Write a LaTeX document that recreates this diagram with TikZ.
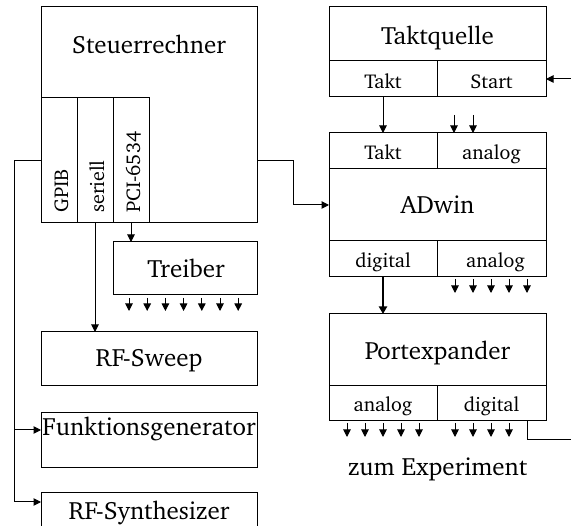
\documentclass[tikz,border=0pt]{standalone}
\usepackage[T1]{fontenc}
\usepackage{charter}
\usetikzlibrary{arrows.meta}
\begin{document}
\begin{tikzpicture}[x=1pt,y=-1pt,
  cell/.style={draw, line width=1pt, inner sep=0pt, outer sep=0pt, anchor=north west},
  big/.style={font=\fontsize{25}{30}\selectfont, inner sep=0pt, anchor=base},
  small/.style={font=\fontsize{20}{24}\selectfont, inner sep=0pt, anchor=base},
  rot/.style={font=\fontsize{20}{24}\selectfont, rotate=90, anchor=base west, inner sep=0pt},
  arr/.style={line width=1pt, -{Triangle[length=7.5pt,width=7.5pt]}},
  plain/.style={line width=1pt}]
\useasboundingbox (0,0) rectangle (571,526);

% ---------- left column ----------
\node[cell, minimum width=216pt, minimum height=216pt] (steuer) at (41,7) {};
\node[big] (steuert) at (149,54) {Steuerrechner};
\node[cell, minimum width=36pt, minimum height=125pt] (gpib) at (41,98) {};
\node[cell, minimum width=36pt, minimum height=125pt] (seriell) at (77,98) {};
\node[cell, minimum width=36pt, minimum height=125pt] (pci) at (113,98) {};
\node[rot] (gpibt) at (68,213) {GPIB};
\node[rot] (serit) at (104,213) {seriell};
\node[rot] (pcit) at (140,213) {PCI-6534};

\node[cell, minimum width=144pt, minimum height=53pt] (treiber) at (113,242) {};
\node[big] (treibert) at (186,278) {Treiber};

\node[cell, minimum width=216pt, minimum height=54pt] (sweep) at (41,332) {};
\node[big] (sweept) at (149,367) {RF-Sweep};
\node[cell, minimum width=216pt, minimum height=55pt] (funk) at (41,413) {};
\node[big] (funkt) at (149,436) {Funktionsgenerator};
\node[cell, minimum width=216pt, minimum height=54pt] (synth) at (41,493) {};
\node[big] (syntht) at (149,520) {RF-Synthesizer};

% ---------- right column ----------
\node[cell, minimum width=217pt, minimum height=54pt] (tq) at (329,7) {};
\node[big] (tqt) at (437.5,45) {Taktquelle};
\node[cell, minimum width=108pt, minimum height=36pt] (tqtakt) at (329,61) {};
\node[cell, minimum width=109pt, minimum height=36pt] (tqstart) at (437,61) {};
\node[small] (tqtaktt) at (383,89) {Takt};
\node[small] (tqstartt) at (491.5,89) {Start};

\node[cell, minimum width=108pt, minimum height=36pt] (adtakt) at (329,133) {};
\node[cell, minimum width=109pt, minimum height=36pt] (adain) at (437,133) {};
\node[cell, minimum width=217pt, minimum height=72pt] (admain) at (329,169) {};
\node[cell, minimum width=108pt, minimum height=36pt] (addig) at (329,241) {};
\node[cell, minimum width=109pt, minimum height=36pt] (adaout) at (437,241) {};
\node[small] (adtaktt) at (383,160) {Takt};
\node[small] (adaint) at (491.5,160) {analog};
\node[big] (admaint) at (437.5,214) {ADwin};
\node[small] (addigt) at (383,268) {digital};
\node[small] (adaoutt) at (495.5,268) {analog};

\node[cell, minimum width=217pt, minimum height=72pt] (pe) at (329,314) {};
\node[big] (pet) at (437.5,360) {Portexpander};
\node[cell, minimum width=108pt, minimum height=35pt] (pean) at (329,386) {};
\node[cell, minimum width=109pt, minimum height=35pt] (pedig) at (437,386) {};
\node[small] (peant) at (383,412) {analog};
\node[small] (pedigt) at (491.5,412) {digital};

\node[big] (zum) at (437.5,476) {zum Experiment};

% ---------- connectors ----------
\coordinate (fa) at (14,430);
\coordinate (sa) at (14,502);
\draw[plain] (gpib.west) -| (sa);
\draw[arr] (fa) -- (fa -| funk.west);
\draw[arr] (sa) -- (sa -| synth.west);

\draw[arr] (seriell.south) -- (seriell.south |- sweep.north);
\draw[arr] (pci.south) -- (pci.south |- treiber.north);

\foreach \i in {0,...,6}
  \draw[arr] ([xshift={16+18.2*\i}, yshift=-3pt]treiber.south west) -- ++(0,13);

\draw[arr] (steuer.east |- gpib.west) -- ++(36,0) |- (admain.west);

\coordinate (loopin) at (571,79);
\draw[arr] (loopin) -- (tqstart.east);
\draw[arr] (tqtakt.south) -- (adtakt.north);
\foreach \i in {17,36}
  \draw[arr] ([xshift=\i, yshift=18pt]adain.north west) -- ++(0,18);

\foreach \i in {18,36,54,72,90}
  \draw[arr] ([xshift=\i, yshift=-2pt]adaout.south west) -- ++(0,14);

\draw[line width=2pt, -{Triangle[length=7.5pt,width=8pt]}] (addig.south) -- (addig.south |- pe.north);

\foreach \i in {18,36,54,72,90}
  \draw[arr] ([xshift=\i, yshift=-2pt]pean.south west) -- ++(0,14);
\foreach \i in {18,36,54,72}
  \draw[arr] ([xshift=\i, yshift=-2pt]pedig.south west) -- ++(0,14);

\coordinate (loopout) at (571,440);
\draw[plain] ([xshift=90pt]pedig.south west) |- (loopout);
\end{tikzpicture}
\end{document}
